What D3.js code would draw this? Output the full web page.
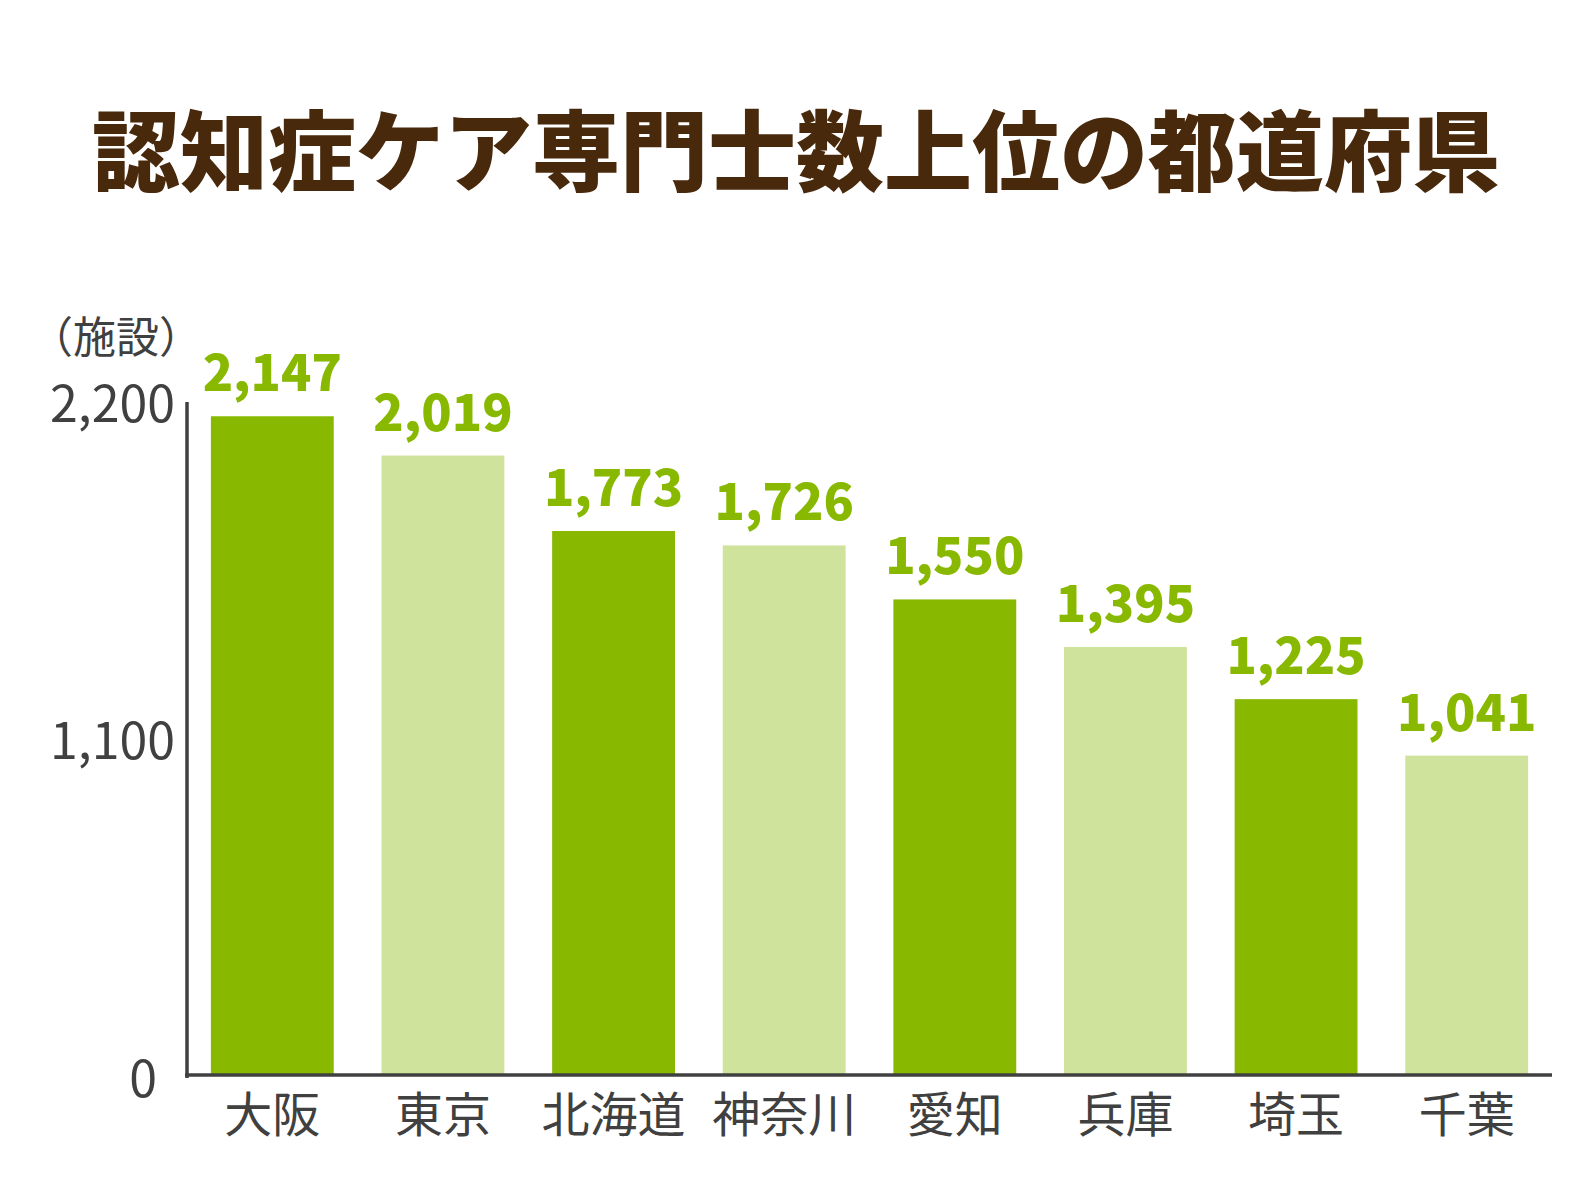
<!DOCTYPE html>
<html lang="ja">
<head>
<meta charset="utf-8">
<script src="https://cdn.jsdelivr.net/npm/d3@7"></script>
<style>
  body { margin: 0; background: #fff; }
  svg text { font-family: "Noto Sans CJK JP", "Noto Sans", sans-serif; }
</style>
</head>
<body>
<div id="chart"></div>
<script>
// data
const prefectures = ["大阪", "東京", "北海道", "神奈川", "愛知", "兵庫", "埼玉", "千葉"];
const facilities = [2147, 2019, 1773, 1726, 1550, 1395, 1225, 1041];
const yTicks = [0, 1100, 2200];

const width = 1592, height = 1194;
const dark = "#88b800", light = "#d0e39c", ink = "#404040";

const svg = d3.select("#chart")
    .append("svg")
    .attr("width", width)
    .attr("height", height);

// title
svg.append("text")
    .attr("x", 796)
    .attr("y", 184)
    .attr("text-anchor", "middle")
    .attr("font-size", "88px")
    .attr("font-weight", 900)
    .attr("fill", "#48290c")
    .text("認知症ケア専門士数上位の都道府県");

const xScale = d3.scaleBand()
    .domain(prefectures)
    .range([187, 1552])
    .paddingInner(0.28)
    .paddingOuter(0.14);

const yScale = d3.scaleLinear()
    .domain([0, 2200])
    .range([1075, 400]);

// bars, alternating dark / light
svg.selectAll("rect.bar")
    .data(facilities)
    .enter()
    .append("rect")
    .attr("class", "bar")
    .attr("x", (d, i) => xScale(prefectures[i]))
    .attr("y", d => yScale(d))
    .attr("width", xScale.bandwidth())
    .attr("height", d => yScale(0) - yScale(d))
    .attr("fill", (d, i) => i % 2 === 0 ? dark : light);

// value labels above bars
svg.selectAll("text.value")
    .data(facilities)
    .enter()
    .append("text")
    .attr("class", "value")
    .attr("x", (d, i) => xScale(prefectures[i]) + xScale.bandwidth() / 2)
    .attr("y", d => yScale(d) - 25)
    .attr("text-anchor", "middle")
    .attr("font-size", "50px")
    .attr("font-weight", 900)
    .attr("fill", dark)
    .text(d => d3.format(",")(d));

// y axis labels
const yAxis = d3.axisLeft(yScale)
    .tickValues(yTicks)
    .tickFormat(d3.format(","))
    .tickSize(0)
    .tickPadding(12);

const gy = svg.append("g")
    .attr("transform", "translate(187, 0)")
    .call(yAxis);
gy.select(".domain").remove();
gy.selectAll("text")
    .attr("font-size", "50px")
    .attr("fill", ink)
    .attr("dy", "0.42em");
// the zero label sits further left in the original
gy.selectAll(".tick").filter(d => d === 0).select("text").attr("x", -30);

// x axis labels
const xAxis = d3.axisBottom(xScale).tickSize(0).tickPadding(0);
const gx = svg.append("g")
    .attr("transform", `translate(0, ${yScale(0)})`)
    .call(xAxis);
gx.select(".domain").remove();
gx.selectAll("text")
    .attr("font-size", "48px")
    .attr("fill", ink)
    .attr("dy", null)
    .attr("y", 57);

// axis lines
svg.append("line")
    .attr("x1", 187).attr("x2", 187)
    .attr("y1", yScale(2200) + 2).attr("y2", yScale(0) + 3)
    .attr("stroke", ink)
    .attr("stroke-width", 3.5);
svg.append("line")
    .attr("x1", 185).attr("x2", 1552)
    .attr("y1", yScale(0)).attr("y2", yScale(0))
    .attr("stroke", ink)
    .attr("stroke-width", 3.5);

// unit label
svg.append("text")
    .attr("x", 116)
    .attr("y", 353)
    .attr("text-anchor", "middle")
    .attr("font-size", "43px")
    .attr("fill", ink)
    .text("（施設）");
</script>
</body>
</html>
